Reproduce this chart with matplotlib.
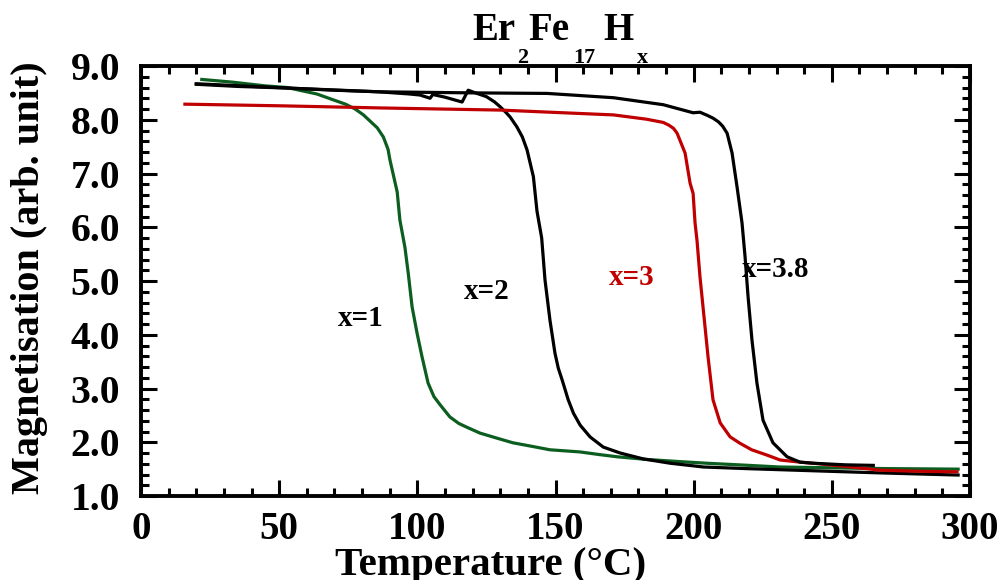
import matplotlib
matplotlib.use("Agg")
import matplotlib.pyplot as plt
from matplotlib.ticker import MultipleLocator, FormatStrFormatter

plt.rcParams["font.family"] = ["Liberation Serif", "DejaVu Serif"]
plt.rcParams["font.weight"] = "bold"

# magnetisation vs temperature for each hydrogen content
temp_x1 = [22, 33, 45, 52.8, 63.6, 69.6, 74, 77.5, 80.5, 83.0, 85.5, 87.7, 89.4, 90.1, 91.2,
           92.7, 93.7, 95.5, 96.7, 98.1, 99.9, 101.7, 103.9, 106, 108.2, 111.8, 115,
           117.9, 122.7, 129.9, 134.6, 141.9, 148, 158.9, 166, 172.3, 183, 195, 204.7,
           220, 231, 243, 255.5, 270, 283, 295.7]
mag_x1 = [8.75, 8.70, 8.63, 8.60, 8.48, 8.37, 8.29, 8.20, 8.09, 7.97, 7.85, 7.68, 7.45, 7.25,
          7.00, 6.66, 6.13, 5.63, 5.15, 4.52, 4.03, 3.59, 3.10, 2.85, 2.70, 2.47, 2.35,
          2.28, 2.17, 2.06, 1.99, 1.92, 1.86, 1.82, 1.77, 1.73, 1.68, 1.64, 1.61,
          1.57, 1.54, 1.53, 1.52, 1.51, 1.505, 1.50]

temp_x2 = [20, 35, 52.7, 70, 86, 97, 101, 104.6, 105.6, 110, 116.2, 118.4, 121, 125,
           128, 130, 132, 133.6, 136, 138, 139.7, 142, 143.3, 145, 146.2, 148, 149.8,
           151, 152.4, 154.6, 156.5, 158.9, 162.5, 167.3, 173.4, 181.8, 191.5, 203.5,
           219, 243, 267.5, 295.7]
mag_x2 = [8.66, 8.62, 8.59, 8.55, 8.52, 8.48, 8.46, 8.40, 8.47, 8.42, 8.33, 8.55, 8.50, 8.43,
          8.33, 8.24, 8.14, 8.05, 7.87, 7.68, 7.44, 6.94, 6.30, 5.80, 5.02, 4.27, 3.66,
          3.38, 3.16, 2.79, 2.54, 2.32, 2.10, 1.91, 1.80, 1.69, 1.61, 1.54,
          1.51, 1.47, 1.43, 1.39]

temp_x3 = [15.9, 50, 86.5, 130, 171, 183, 189, 191, 192.7, 194.0, 196.9, 198.7, 199.8,
           200.5, 201.2, 202.3, 203.4, 205.2, 207.0, 209.6, 213.2, 216.8, 221, 226.6,
           231.3, 238.5, 243.2, 255, 267.5, 282, 295.3]
mag_x3 = [8.29, 8.26, 8.22, 8.18, 8.09, 8.01, 7.95, 7.90, 7.84, 7.75, 7.38, 6.82, 6.63,
          6.08, 5.76, 5.07, 4.51, 3.59, 2.79, 2.36, 2.10, 1.98, 1.86, 1.76,
          1.67, 1.63, 1.61, 1.55, 1.48, 1.46, 1.45]

temp_x38 = [20, 53, 86, 120, 147, 171, 189, 199.8, 202.3, 205, 207, 209, 210.5, 212.1,
            213.9, 215.7, 217.5, 218.6, 219.7, 221.1, 222.9, 225.1, 228.7, 233.8, 238.5,
            243.2, 255, 265]
mag_x38 = [8.67, 8.59, 8.52, 8.50, 8.49, 8.41, 8.28, 8.13, 8.14, 8.08, 8.03, 7.96, 7.88,
           7.75, 7.38, 6.75, 6.08, 5.45, 4.70, 3.90, 3.10, 2.41, 1.99, 1.73, 1.63,
           1.61, 1.58, 1.57]

green = "#0b5e1f"
red = "#c00000"

fig = plt.figure(figsize=(10, 5.8), dpi=100)
ax = fig.add_axes([0.141, 0.1448, 0.829, 0.7414])

ax.plot(temp_x1, mag_x1, color=green, lw=2.3)
ax.plot(temp_x2, mag_x2, color="black", lw=2.3)
ax.plot(temp_x3, mag_x3, color=red, lw=2.3)
ax.plot(temp_x38, mag_x38, color="black", lw=2.3)

ax.text(79.6, 4.31, "x=1", fontsize=21, ha="center", va="center")
ax.text(125.2, 4.81, "x=2", fontsize=21, ha="center", va="center")
ax.text(177.7, 5.07, "x=3", fontsize=21, ha="center", va="center", color=red)
ax.text(229.8, 5.22, "x=3.8", fontsize=21, ha="center", va="center")

ax.set_xlim(0, 300)
ax.set_ylim(1.0, 9.0)
ax.xaxis.set_major_locator(MultipleLocator(50))
ax.xaxis.set_minor_locator(MultipleLocator(10))
ax.yaxis.set_major_locator(MultipleLocator(1.0))
ax.yaxis.set_minor_locator(MultipleLocator(0.2))
ax.yaxis.set_major_formatter(FormatStrFormatter("%.1f"))

ax.tick_params(which="both", direction="in", top=True, right=True, width=2.2)
ax.tick_params(which="major", length=11.5)
ax.tick_params(which="minor", length=5.8)
ax.tick_params(axis="x", labelsize=28, pad=11)
ax.tick_params(axis="y", labelsize=28.5, pad=15)
for spine in ax.spines.values():
    spine.set_linewidth(2.8)

ax.set_xlabel("Temperature (°C)", fontsize=29.5, fontweight="bold")
ax.xaxis.label.set_va("baseline")
ax.xaxis.set_label_coords(0.4216, -0.183)
ax.set_ylabel("Magnetisation (arb. unit)", fontsize=29, fontweight="bold")
ax.yaxis.label.set_va("center")
ax.yaxis.set_label_coords(-0.134, 0.507)

# formula title with deep subscripts
def px(x, y):
    return x / 1000, 1 - y / 580

for piece, x, y, size in [("Er", 472, 40, 28), ("2", 517, 63, 16),
                          ("Fe", 528, 40, 28), ("17", 573, 63, 16),
                          ("H", 603, 40, 28), ("x", 637, 63, 16)]:
    fx, fy = px(x, y)
    fig.text(fx, fy, piece, fontsize=size, fontweight="bold", ha="left", va="baseline")

fig.savefig("out.png", dpi=100)
